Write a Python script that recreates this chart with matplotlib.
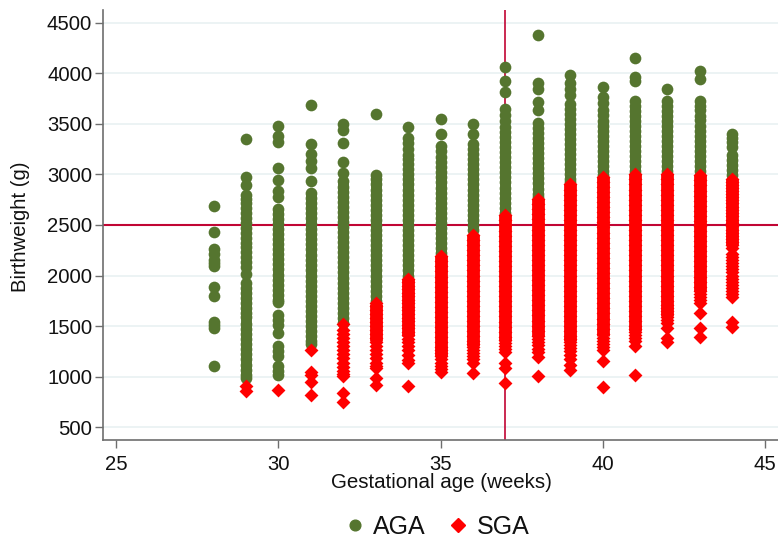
import numpy as np
import matplotlib
matplotlib.use("Agg")
import matplotlib.pyplot as plt
from matplotlib.lines import Line2D

plt.rcParams['font.family'] = ['Liberation Sans', 'DejaVu Sans']

weeks = [28, 29, 30, 31, 32, 33, 34, 35, 36, 37, 38, 39, 40, 41, 42, 43, 44]
xticks = [25, 30, 35, 40, 45]
yticks = [500, 1000, 1500, 2000, 2500, 3000, 3500, 4000, 4500]
week_cut = 37
weight_cut = 2500

# Birthweights, AGA points per week
aga_28 = [2685, 2435, 2260, 2210, 2150, 2120, 2090, 1890, 1800, 1540, 1510, 1485, 1105]
aga_29 = [3350, 2970, 2890, 2800, 2760, 2715, 2670, 2620, 2570, 2520, 2470, 2420, 2370, 2320, 2280,
          2230, 2180, 2130, 2080, 2020, 1930, 1880, 1830, 1780, 1730, 1680, 1630, 1590, 1520, 1470,
          1420, 1370, 1320, 1270, 1220, 1170, 1120, 1070, 1020, 990]
aga_30 = [3480, 3380, 3320, 3060, 2940, 2840, 2780, 2660, 2610, 2560, 2510, 2460, 2410, 2360, 2310,
          2260, 2210, 2160, 2110, 2060, 2010, 1960, 1910, 1860, 1810, 1760, 1740, 1610, 1560, 1510,
          1430, 1300, 1250, 1200, 1110, 1060, 1020]
aga_31 = [3690, 3300, 3200, 3130, 3060, 2930, 2820, 2770, 2720, 2670, 2620, 2570, 2510, 2460, 2410,
          2360, 2310, 2260, 2200, 2150, 2100, 2050, 2000, 1950, 1900, 1850, 1800, 1750, 1700, 1650,
          1600, 1550, 1500, 1450, 1400, 1350, 1320]
aga_32 = [3500, 3440, 3310, 3120, 3010, 2930, 2880, 2830, 2780, 2730, 2680, 2630, 2580, 2530, 2480,
          2430, 2380, 2330, 2280, 2230, 2180, 2130, 2080, 2030, 1980, 1930, 1880, 1830, 1780, 1730,
          1680, 1630, 1580, 1530]
aga_33 = [3600, 2990, 2950, 2900, 2850, 2800, 2750, 2700, 2650, 2600, 2550, 2500, 2450, 2400, 2350,
          2300, 2250, 2200, 2150, 2100, 2050, 2000, 1950, 1900, 1850, 1800, 1750]
aga_34 = [3470, 3360, 3310, 3250, 3190, 3150, 3100, 3050, 3000, 2950, 2900, 2850, 2800, 2750, 2700,
          2650, 2600, 2550, 2500, 2450, 2400, 2350, 2300, 2250, 2200, 2150, 2100, 2050, 2000]
aga_35 = [3545, 3400, 3280, 3230, 3170, 3120, 3070, 3020, 2970, 2920, 2870, 2820, 2770, 2720, 2670,
          2620, 2570, 2520, 2470, 2420, 2370, 2320, 2270, 2220]
aga_36 = [3500, 3400, 3300, 3250, 3200, 3150, 3100, 3050, 3000, 2950, 2900, 2850, 2800, 2750, 2700,
          2650, 2600, 2550, 2500, 2450]
aga_37 = [4060, 3920, 3810, 3650, 3590, 3530, 3470, 3420, 3370, 3320, 3270, 3220, 3170, 3120, 3070,
          3020, 2970, 2920, 2870, 2820, 2770, 2720, 2670, 2620]
aga_38 = [4375, 3900, 3840, 3720, 3640, 3510, 3460, 3410, 3360, 3310, 3260, 3210, 3160, 3110, 3060,
          3010, 2960, 2910, 2860, 2810, 2780]
aga_39 = [3985, 3900, 3840, 3780, 3700, 3650, 3600, 3550, 3500, 3450, 3400, 3350, 3300, 3250, 3200,
          3150, 3100, 3050, 3000, 2950, 2920]
aga_40 = [3860, 3760, 3710, 3640, 3590, 3530, 3480, 3430, 3380, 3330, 3280, 3230, 3180, 3130, 3080,
          3030, 2990]
aga_41 = [4150, 3960, 3920, 3730, 3680, 3630, 3580, 3530, 3480, 3430, 3380, 3330, 3280, 3230, 3180,
          3130, 3080, 3030]
aga_42 = [3840, 3730, 3680, 3630, 3580, 3530, 3480, 3430, 3380, 3330, 3280, 3230, 3180, 3130, 3080,
          3030]
aga_43 = [4020, 3940, 3730, 3680, 3640, 3580, 3540, 3480, 3430, 3380, 3330, 3280, 3230, 3180, 3130,
          3080, 3030]
aga_44 = [3400, 3360, 3320, 3270, 3190, 3140, 3090, 3040, 2990]

# SGA points per week
sga_29 = [910, 855]
sga_30 = [870]
sga_31 = [1265, 1050, 1020, 945, 820]
sga_32 = [1525, 1460, 1420, 1380, 1340, 1300, 1260, 1220, 1180, 1140, 1100, 1060, 1030, 1005, 840, 745]
sga_33 = [1730, 1700, 1660, 1620, 1580, 1540, 1500, 1460, 1420, 1380, 1340, 1300, 1260, 1220, 1180,
          1140, 1110, 1085, 990, 920]
sga_34 = [1970, 1935, 1900, 1865, 1830, 1795, 1760, 1725, 1690, 1655, 1620, 1585, 1550, 1515, 1480,
          1445, 1410, 1375, 1340, 1300, 1265, 1215, 1160, 1135, 910]
sga_35 = [2190, 2140, 2090, 2040, 1990, 1940, 1890, 1840, 1790, 1740, 1690, 1640, 1590, 1540, 1490,
          1440, 1390, 1340, 1290, 1260, 1230, 1200, 1170, 1140, 1110, 1080, 1050]
sga_36 = [2405, 2350, 2300, 2250, 2200, 2150, 2100, 2050, 2000, 1950, 1900, 1850, 1800, 1750, 1700,
          1650, 1600, 1550, 1500, 1450, 1400, 1350, 1320, 1290, 1265, 1235, 1205, 1170, 1140, 1035]
sga_37 = [2595, 2545, 2495, 2445, 2395, 2345, 2295, 2245, 2195, 2145, 2095, 2045, 1995, 1945, 1895,
          1845, 1795, 1745, 1695, 1645, 1595, 1545, 1495, 1445, 1395, 1365, 1335, 1305, 1275,
          1240, 1140, 1085, 940]
sga_38 = [2755, 2705, 2655, 2605, 2555, 2505, 2455, 2405, 2355, 2305, 2255, 2205, 2155, 2105, 2055,
          2005, 1955, 1905, 1855, 1805, 1755, 1705, 1655, 1605, 1555, 1505, 1455, 1405, 1375, 1345,
          1310, 1270, 1240, 1195, 1010]
sga_39 = [2900, 2850, 2800, 2750, 2700, 2650, 2600, 2550, 2500, 2450, 2400, 2350, 2300, 2250, 2200,
          2150, 2100, 2050, 2000, 1950, 1900, 1850, 1800, 1750, 1700, 1650, 1600, 1550, 1500, 1450,
          1400, 1370, 1340, 1310, 1280, 1250, 1210, 1170, 1120, 1067]
sga_40 = [2975, 2925, 2875, 2825, 2775, 2725, 2675, 2625, 2575, 2525, 2475, 2425, 2375, 2325, 2275,
          2225, 2175, 2125, 2075, 2025, 1975, 1925, 1875, 1825, 1775, 1725, 1675, 1625, 1575, 1525,
          1475, 1425, 1385, 1355, 1325, 1295, 1265, 1155, 900]
sga_41 = [3000, 2950, 2900, 2850, 2800, 2750, 2700, 2650, 2600, 2550, 2500, 2450, 2400, 2350, 2300,
          2250, 2200, 2150, 2100, 2050, 2000, 1950, 1900, 1850, 1800, 1750, 1700, 1650, 1600, 1550,
          1500, 1470, 1440, 1410, 1380, 1350, 1300, 1017]
sga_42 = [3000, 2950, 2900, 2850, 2800, 2750, 2700, 2650, 2600, 2550, 2500, 2450, 2400, 2350, 2300,
          2250, 2200, 2150, 2100, 2050, 2000, 1950, 1900, 1850, 1800, 1750, 1710, 1680,
          1650, 1620, 1590, 1560, 1530, 1480, 1380, 1345]
sga_43 = [2990, 2940, 2890, 2840, 2790, 2740, 2690, 2640, 2590, 2540, 2490, 2440, 2390, 2340, 2290,
          2240, 2190, 2140, 2090, 2040, 1990, 1940, 1890, 1850, 1820, 1790, 1760, 1725, 1630, 1480, 1395]
sga_44 = [2955, 2925, 2895, 2865, 2835, 2805, 2775, 2745, 2715, 2680, 2650, 2620, 2590, 2550, 2520,
          2490, 2450, 2420, 2390, 2360, 2330, 2300, 2270, 2210, 2180, 2150, 2120, 2090, 2060, 2030,
          2000, 1970, 1940, 1910, 1880, 1850, 1820, 1790, 1545, 1495]

aga_values = [aga_28, aga_29, aga_30, aga_31, aga_32, aga_33, aga_34, aga_35, aga_36, aga_37,
              aga_38, aga_39, aga_40, aga_41, aga_42, aga_43, aga_44]
sga_values = [[], sga_29, sga_30, sga_31, sga_32, sga_33, sga_34, sga_35, sga_36, sga_37,
              sga_38, sga_39, sga_40, sga_41, sga_42, sga_43, sga_44]

# Where the points overlap into a solid column (top and bottom of the run per week)
aga_run_weeks = [29, 30, 31, 32, 33, 34, 35, 36, 37, 38, 39, 40, 41, 42, 43, 44]
aga_run_top = [1880, 2660, 2820, 2930, 2990, 2990, 3020, 3150, 3420, 3360, 3500, 3530, 3680, 3630, 3380, 3190]
aga_run_bottom = [1020, 1740, 1330, 1530, 1750, 2000, 2220, 2450, 2620, 2780, 2920, 2990, 3030, 3030, 3030, 2990]
sga_run_weeks = [33, 34, 35, 36, 37, 38, 39, 40, 41, 42, 43, 44]
sga_run_top = [1720, 1970, 2190, 2405, 2595, 2755, 2900, 2975, 3000, 3000, 2990, 2955]
sga_run_bottom = [1350, 1400, 1200, 1300, 1350, 1400, 1350, 1400, 1450, 1600, 1850, 2300]

green = '#55752f'
red = '#ff0000'
cranberry = '#c10534'
grid_col = '#eaf2f3'
axis_col = '#6e6e6e'

fig = plt.figure(figsize=(7.78, 5.4), dpi=100)
ax = fig.add_axes([103 / 778, 1 - 440 / 540, (778 - 103) / 778, 430 / 540])

ax.set_xlim(24.59, 45.41)
ax.set_ylim(374, 4625)
ax.set_axisbelow(True)

ax.grid(axis='y', color=grid_col, linewidth=1.3)
ax.axhline(weight_cut, color=cranberry, linewidth=1.5, zorder=1)
ax.axvline(week_cut, color=cranberry, linewidth=1.2, zorder=1)

for w, vals in zip(weeks, aga_values):
    ax.scatter(np.full(len(vals), w), vals, s=71, marker='o', color=green, linewidths=0, zorder=2)
ax.vlines(aga_run_weeks, aga_run_bottom, aga_run_top, color=green, linewidth=7.8, zorder=2)
for w, vals in zip(weeks, sga_values):
    ax.scatter(np.full(len(vals), w), vals, s=50, marker='D', color=red, linewidths=0, zorder=3)
ax.vlines(sga_run_weeks, sga_run_bottom, sga_run_top, color=red, linewidth=9.2, zorder=3)

ax.set_xticks(xticks)
ax.set_yticks(yticks)
ax.tick_params(axis='both', labelsize=14.6, length=5.8, width=1, color=axis_col, labelcolor='#111111')
ax.tick_params(axis='x', pad=5)
ax.tick_params(axis='y', pad=2)
for s in ['top', 'right']:
    ax.spines[s].set_visible(False)
for s in ['left', 'bottom']:
    ax.spines[s].set_color(axis_col)
    ax.spines[s].set_linewidth(1.2)

fig.text(441 / 778, 1 - 482 / 540, 'Gestational age (weeks)', fontsize=14.8, color='#111111', ha='center', va='center')
fig.text(21 / 778, 1 - 227 / 540, 'Birthweight (g)', fontsize=14.6, color='#111111', rotation=90, ha='center', va='center')

handles = [Line2D([], [], linestyle='none', marker='o', color=green, markersize=7.7),
           Line2D([], [], linestyle='none', marker='D', color=red, markersize=6.8)]
fig.legend(handles, ['AGA', 'SGA'], loc='center', bbox_to_anchor=(436 / 778, 1 - 527 / 540), ncol=2,
           frameon=False, fontsize=18, handlelength=1, handletextpad=0.22, columnspacing=0.8,
           borderpad=0, labelcolor='#111111')

fig.savefig('out.png', dpi=100)
